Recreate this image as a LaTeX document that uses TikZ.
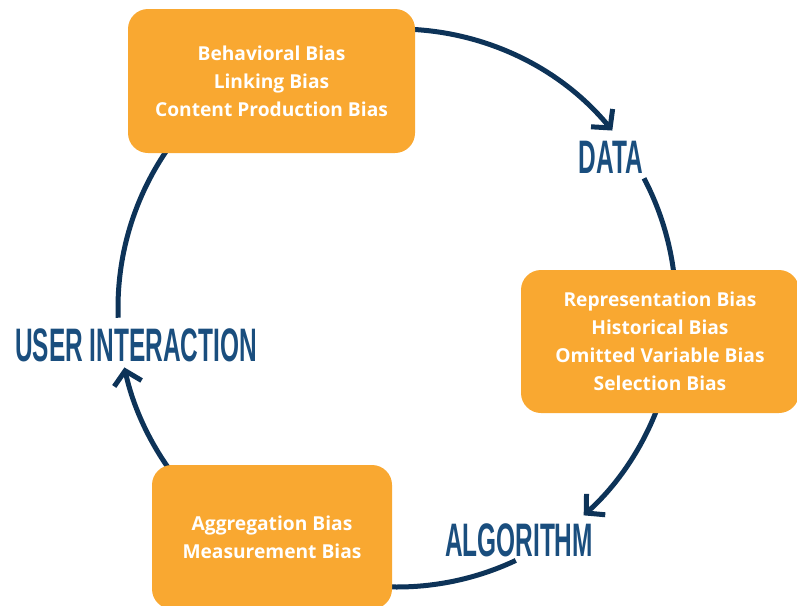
\documentclass[tikz,border=0pt]{standalone}
\usepackage{fontspec}
\setmainfont{Open Sans}
\newfontfamily\headfam{Liberation Sans}
\usetikzlibrary{arrows.meta,calc}
\definecolor{boxorange}{HTML}{F9A831}
\definecolor{headblue}{HTML}{1A4E7E}
\definecolor{ringblue}{HTML}{0D3358}
\newcommand{\headtxt}[1]{\scalebox{0.52}[1]{\headfam\bfseries\fontsize{47}{47}\selectfont #1}}
\tikzset{
  biasbox/.style={fill=boxorange, rounded corners=20pt, inner sep=0pt, align=center,
    text=white, font=\bfseries\fontsize{19.2}{28}\selectfont},
  stagelabel/.style={text=headblue, inner sep=0pt},
  ring/.style={draw=ringblue, line width=5pt},
  ringarrow/.style={ring, -{Straight Barb[length=13pt,width=28pt]}}
}
\begin{document}
\begin{tikzpicture}[x=1pt,y=-1pt]
\useasboundingbox (0,0) rectangle (797,605);
\coordinate (c) at (397,308);
% ring segments
\draw[ringarrow] ($(c)+(-100:279)$) arc[start angle=-100, end angle=-39.5, radius=279];
\draw[ring] ($(c)+(-27.7:279)$) arc[start angle=-27.7, end angle=0, radius=279];
\draw[ringarrow] ($(c)+(15:279)$) arc[start angle=15, end angle=48, radius=279];
\draw[ring] ($(c)+(64.8:279)$) arc[start angle=64.8, end angle=100, radius=279];
\draw[ringarrow] ($(c)+(140:279)$) arc[start angle=140, end angle=167.7, radius=279];
\draw[ring] ($(c)+(178:279)$) arc[start angle=178, end angle=235, radius=279];
% boxes
\node[biasbox, minimum width=287pt, minimum height=144pt] (user) at (271.5,81)
  {Behavioral Bias\\Linking Bias\\Content Production Bias};
\node[biasbox, minimum width=278pt, minimum height=143pt] (data) at (660,341.5)
  {Representation Bias\\Historical Bias\\Omitted Variable Bias\\Selection Bias};
\node[biasbox, minimum width=240pt, minimum height=144pt] (algo) at (272,537)
  {Aggregation Bias\\Measurement Bias};
% stage labels
\node[stagelabel] (lbldata) at (611,157) {\headtxt{DATA}};
\node[stagelabel] (lblalgo) at (519,540) {\headtxt{ALGORITHM}};
\node[stagelabel] (lbluser) at (136,345) {\headtxt{USER INTERACTION}};
\end{tikzpicture}
\end{document}
